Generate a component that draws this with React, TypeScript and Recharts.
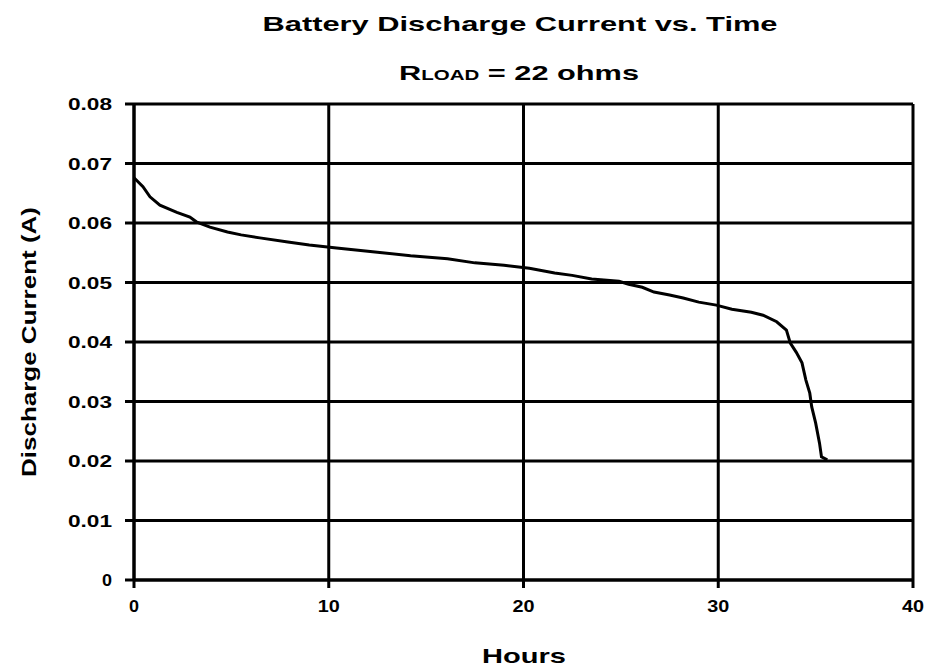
import { CartesianGrid, Line, LineChart, XAxis, YAxis } from "recharts";

const hours = [
  0, 0.46, 0.82, 1.33, 2.2, 2.87, 3.2, 3.9, 4.8, 5.5, 6.46, 7.9, 9.0, 10.4, 12.5, 14.2, 16.1, 17.5, 19.0,
  20.3, 21.6, 22.5, 23.5, 24.9, 25.4, 26.1, 26.7, 27.5, 28.2, 29.0, 29.9, 30.7, 31.7, 32.3, 33.0, 33.5,
  33.7, 34.0, 34.3, 34.5, 34.7, 34.8, 35.0, 35.2, 35.3, 35.6,
];
const current = [
  0.0676, 0.0661, 0.0644, 0.063, 0.0618, 0.061, 0.0602, 0.0593, 0.0585, 0.058, 0.0575, 0.0568, 0.0563,
  0.0558, 0.0551, 0.0545, 0.054, 0.0533, 0.0529, 0.0524, 0.0516, 0.0512, 0.0506, 0.0502, 0.0497, 0.0492,
  0.0484, 0.0479, 0.0474, 0.0467, 0.0462, 0.0455, 0.045, 0.0445, 0.0434, 0.042, 0.0398, 0.0383, 0.0365,
  0.0336, 0.0314, 0.0291, 0.0264, 0.023, 0.0207, 0.0202,
];
const xTicks = [0, 10, 20, 30, 40];
const yTicks = [0, 0.01, 0.02, 0.03, 0.04, 0.05, 0.06, 0.07, 0.08];

const data = hours.map((h, i) => ({ h, a: current[i] }));

const FONT = "'Liberation Sans', Arial, sans-serif";

function YTick({ x, y, payload }: any) {
  const label = payload.value === 0 ? "0" : payload.value.toFixed(2);
  return (
    <text
      x={x}
      y={y}
      dy={6}
      textAnchor="end"
      fontFamily={FONT}
      fontWeight="bold"
      fontSize={16}
      fill="#000"
      textLength={label.length > 1 ? 44 : 10}
      lengthAdjust="spacingAndGlyphs"
    >
      {label}
    </text>
  );
}

function XTick({ x, y, payload }: any) {
  const label = String(payload.value);
  return (
    <text
      x={x}
      y={y}
      dy={12}
      textAnchor="middle"
      fontFamily={FONT}
      fontWeight="bold"
      fontSize={16}
      fill="#000"
      textLength={label.length > 1 ? 22 : 10}
      lengthAdjust="spacingAndGlyphs"
    >
      {label}
    </text>
  );
}

export default function App() {
  return (
    <div style={{ position: "absolute", left: 0, top: 0, width: 925, height: 670, background: "#fff" }}>
      <LineChart width={925} height={670} data={data} margin={{ top: 104, right: 12, bottom: 0, left: 0 }}>
        <CartesianGrid stroke="#000" strokeWidth={3} />
        <XAxis
          type="number"
          dataKey="h"
          domain={[0, 40]}
          ticks={xTicks}
          height={90}
          tickSize={8}
          tickMargin={12}
          axisLine={{ stroke: "#000", strokeWidth: 3 }}
          tickLine={{ stroke: "#000", strokeWidth: 3 }}
          tick={<XTick />}
        />
        <YAxis
          type="number"
          domain={[0, 0.08]}
          ticks={yTicks}
          width={134}
          tickSize={9}
          tickMargin={13}
          axisLine={{ stroke: "#000", strokeWidth: 3 }}
          tickLine={{ stroke: "#000", strokeWidth: 3 }}
          tick={<YTick />}
        />
        <Line
          type="linear"
          dataKey="a"
          stroke="#000"
          strokeWidth={3}
          dot={false}
          isAnimationActive={false}
        />
      </LineChart>
      <svg
        width={925}
        height={670}
        style={{ position: "absolute", left: 0, top: 0, pointerEvents: "none" }}
        fontFamily={FONT}
        fontWeight="bold"
        fill="#000"
      >
        <text x={520} y={31} fontSize={21} textAnchor="middle" textLength={515} lengthAdjust="spacingAndGlyphs">
          Battery Discharge Current vs. Time
        </text>
        <text x={519} y={80} fontSize={21} textAnchor="middle" textLength={240} lengthAdjust="spacingAndGlyphs">
          R<tspan fontSize={14}>LOAD</tspan> = 22 ohms
        </text>
        <text x={524} y={663} fontSize={21} textAnchor="middle" textLength={84} lengthAdjust="spacingAndGlyphs">
          Hours
        </text>
        <text
          x={0}
          y={0}
          fontSize={21}
          textAnchor="middle"
          textLength={270}
          lengthAdjust="spacingAndGlyphs"
          transform="translate(36 342) rotate(-90)"
        >
          Discharge Current (A)
        </text>
      </svg>
    </div>
  );
}
